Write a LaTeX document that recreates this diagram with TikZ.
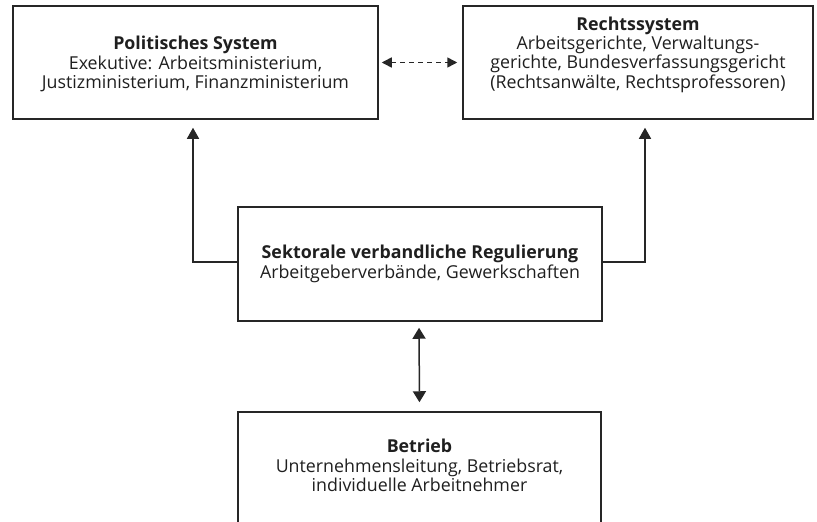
\documentclass[tikz,border=0pt]{standalone}
\usepackage{fontspec}
\setmainfont{Open Sans}
\usetikzlibrary{arrows.meta}
\begin{document}
\begin{tikzpicture}[x=1pt,y=-1pt,
  box/.style={draw=black!85, line width=1.5pt, rectangle, inner sep=0pt},
  txt/.style={align=center, inner sep=0pt, text=black!88, font=\fontsize{17.8}{19.3}\selectfont},
  conn/.style={draw=black!85, line width=1.5pt},
  tip/.style={-{Triangle[length=11pt,width=12pt]}},
  dtip/.style={{Triangle[length=10pt,width=10pt]}-{Triangle[length=10pt,width=10pt]}}
]
\clip (0,0) rectangle (817,522);
\fill[white] (0,0) rectangle (817,522);
% boxes
\node[box, minimum width=365pt, minimum height=113pt] (pol) at (195.5,62.5) {};
\node[box, minimum width=350pt, minimum height=113pt] (rechts) at (638,62.5) {};
\node[box, minimum width=364pt, minimum height=114pt] (mid) at (420,264) {};
\node[box, minimum width=363pt, minimum height=140pt] (betr) at (419.5,482) {};
% texts
\node[txt] (polt) at (195.5,64) {\textbf{Politisches System}\\Exekutive: Arbeitsministerium,\\Justizministerium, Finanzministerium};
\node[txt] (rechtst) at (638,54.5) {\textbf{Rechtssystem}\\Arbeitsgerichte, Verwaltungs-\\gerichte, Bundesverfassungsgericht\\(Rechtsanwälte, Rechtsprofessoren)};
\node[txt] (midt) at (420,264) {\textbf{Sektorale verbandliche Regulierung}\\Arbeitgeberverbände, Gewerkschaften};
\node[txt] (betrt) at (419.5,465.5) {\textbf{Betrieb}\\Unternehmensleitung, Betriebsrat,\\individuelle Arbeitnehmer};
% connectors
\draw[conn, dtip, dashed, dash pattern=on 5pt off 4pt, shorten <=3pt, shorten >=5pt] (pol.east) -- (rechts.west);
\draw[conn, tip, shorten >=8pt] ([yshift=2pt]mid.west) -| ([xshift=-2.5pt]pol.south);
\draw[conn, tip, shorten >=8pt] ([yshift=2pt]mid.east) -| ([xshift=7pt]rechts.south);
\draw[conn, {Triangle[length=11pt,width=13pt]}-{Triangle[length=11pt,width=13pt]}, shorten <=6pt, shorten >=9pt] ([xshift=-1pt]mid.south) -- (betr.north);
\end{tikzpicture}
\end{document}
